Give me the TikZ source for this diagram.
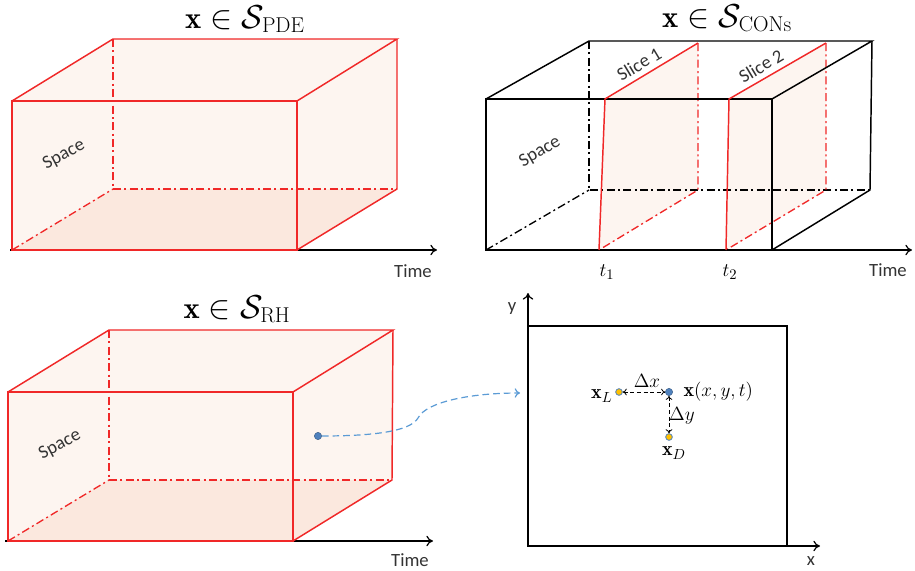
\documentclass[tikz,border=0pt]{standalone}
\usepackage{fontspec}
\newfontfamily\calib{Carlito}
\usetikzlibrary{arrows.meta}
\definecolor{boxred}{HTML}{F02828}
\definecolor{pinkfill}{HTML}{FDF5F0}
\definecolor{pinkdark}{HTML}{FBE8DE}
\definecolor{dotblue}{HTML}{4F81BD}
\definecolor{curveblue}{HTML}{5B9BD5}
\definecolor{dotyellow}{HTML}{FFC000}
\tikzset{
  edge/.style={line width=1.1pt},
  hidden/.style={line width=1.0pt, dash pattern=on 6pt off 2.5pt on 1.5pt off 2.5pt},
  axis/.style={line width=0.9pt, -{To[length=5pt,width=8pt]}},
  title/.style={font=\fontsize{23}{27}\selectfont, anchor=base, inner sep=0pt},
  lab/.style={font=\calib\fontsize{14}{16}\selectfont, text=black!80, inner sep=1pt},
  mlab/.style={font=\fontsize{15}{17}\selectfont, inner sep=1pt},
  dot/.style={circle, inner sep=0pt, minimum size=5.5pt, fill=dotblue, draw=dotblue!70!black, line width=0.3pt},
  ydot/.style={circle, inner sep=0pt, minimum size=5pt, fill=dotyellow, draw=dotblue, line width=0.6pt},
  darr/.style={densely dashed, line width=0.6pt, {To[length=3pt,width=5pt]}-{To[length=3pt,width=5pt]}},
}
\begin{document}
\begin{tikzpicture}[x=0.75pt,y=-0.75pt]
\useasboundingbox (0,0) rectangle (915,571);

% ---------------- Panel 1 ----------------
\coordinate (A1) at (12,250); \coordinate (B1) at (297,250);
\coordinate (C1) at (297,101); \coordinate (D1) at (12,101);
\coordinate (E1) at (113,189); \coordinate (F1) at (397,189);
\coordinate (G1) at (397,39);  \coordinate (H1) at (113,39);
\fill[pinkfill] (A1) -- (D1) -- (H1) -- (G1) -- (F1) -- (B1) -- cycle;
\fill[pinkdark] (A1) -- (B1) -- (F1) -- (E1) -- cycle;
\draw[boxred, hidden] (H1) -- (E1) -- (F1);
\draw[boxred, hidden] (A1) -- (E1);
\coordinate (T1s) at (10,250); \coordinate (T1e) at (437,250);
\draw[axis] (T1s) -- (T1e);
\draw[boxred, edge] (A1) -- (B1) -- (C1) -- (D1) -- cycle;
\draw[boxred, edge] (D1) -- (H1) -- (G1) -- (C1);
\draw[boxred, edge] (G1) -- (F1) -- (B1);
\node[title] (ti1) at (245,28) {$\mathbf{x}\in\mathcal{S}_{\mathrm{PDE}}$};
\node[lab] (time1) at (413,271) {Time};
\node[lab, rotate=28] (sp1) at (64,155) {Space};

% ---------------- Panel 2 ----------------
\coordinate (A2) at (486,250); \coordinate (B2) at (772,250);
\coordinate (C2) at (772,99);  \coordinate (D2) at (486,99);
\coordinate (E2) at (589,190); \coordinate (F2) at (870,190);
\coordinate (G2) at (872,41);  \coordinate (H2) at (589,41);
% slices
\coordinate (S1a) at (599,250); \coordinate (S1b) at (605,99);
\coordinate (S1c) at (698,43);  \coordinate (S1d) at (698,190);
\coordinate (S2a) at (726,250); \coordinate (S2b) at (729,99);
\coordinate (S2c) at (826,43);  \coordinate (S2d) at (826,190);
\fill[pinkfill] (S1a) -- (S1b) -- (S1c) -- (S1d) -- cycle;
\fill[pinkfill] (S2a) -- (S2b) -- (S2c) -- (S2d) -- cycle;
\draw[hidden] (H2) -- (E2) -- (F2);
\draw[hidden] (A2) -- (E2);
\draw[boxred, hidden] (S1c) -- (S1d) -- (S1a);
\draw[boxred, hidden] (S2c) -- (S2d) -- (S2a);
\coordinate (T2s) at (486,250); \coordinate (T2e) at (912,250);
\draw[axis] (T2s) -- (T2e);
\draw[edge] (A2) -- (B2) -- (C2) -- (D2) -- cycle;
\draw[edge] (D2) -- (H2) -- (G2) -- (C2);
\draw[edge] (G2) -- (F2) -- (B2);
\draw[boxred, edge] (S1a) -- (S1b) -- (S1c);
\draw[boxred, edge] (S2a) -- (S2b) -- (S2c);
\node[title] (ti2) at (727,27) {$\mathbf{x}\in\mathcal{S}_{\mathrm{CONs}}$};
\node[lab] (time2) at (888,270) {Time};
\node[mlab] (t1) at (607,272) {$t_1$};
\node[mlab] (t2) at (730,272) {$t_2$};
\node[lab, rotate=30] (sp2) at (540,152) {Space};
\node[lab, rotate=31] (sl1) at (639,64) {Slice 1};
\node[lab, rotate=31] (sl2) at (761,66) {Slice 2};

% ---------------- Panel 3 ----------------
\coordinate (A3) at (8,541);   \coordinate (B3) at (293,541);
\coordinate (C3) at (293,392); \coordinate (D3) at (8,392);
\coordinate (E3) at (109,480); \coordinate (F3) at (392,480);
\coordinate (G3) at (393,330); \coordinate (H3) at (109,330);
\fill[pinkfill] (A3) -- (D3) -- (H3) -- (G3) -- (F3) -- (B3) -- cycle;
\fill[pinkdark] (A3) -- (B3) -- (F3) -- (E3) -- cycle;
\draw[boxred, hidden] (H3) -- (E3) -- (F3);
\draw[boxred, hidden] (A3) -- (E3);
\coordinate (T3s) at (5,541); \coordinate (T3e) at (433,541);
\draw[axis] (T3s) -- (T3e);
\draw[boxred, edge] (A3) -- (B3) -- (C3) -- (D3) -- cycle;
\draw[boxred, edge] (D3) -- (H3) -- (G3) -- (C3);
\draw[boxred, edge] (G3) -- (F3) -- (B3);
\node[title] (ti3) at (237,318) {$\mathbf{x}\in\mathcal{S}_{\mathrm{RH}}$};
\node[lab] (time3) at (410,560) {Time};
\node[lab, rotate=28] (sp3) at (60,445) {Space};
\node[dot] (P) at (318,436) {};

% ---------------- Panel 4 ----------------
\coordinate (R1) at (528,546); \coordinate (R2) at (787,546);
\coordinate (R3) at (787,326); \coordinate (R4) at (528,326);
\draw[edge] (R1) -- (R2) -- (R3) -- (R4) -- cycle;
\coordinate (Yend) at (528,293); \coordinate (Xend) at (820,546);
\draw[axis] (R1) -- (Yend);
\draw[axis] (R1) -- (Xend);
\node[lab] (ylab) at (512,309) {y};
\node[lab] (xlab) at (811,561) {x};
\node[dot] (X) at (669,392) {};
\node[ydot] (XL) at (619,392) {};
\node[ydot] (XD) at (669,437) {};
\draw[darr] (XL) -- (X);
\draw[darr] (X) -- (XD);
\node[mlab, anchor=east] (lXL) at (614,396) {$\mathbf{x}_L$};
\node[mlab, anchor=west] (lX) at (682,392) {$\mathbf{x}(x,y,t)$};
\node[mlab] (ldx) at (647,381) {$\Delta x$};
\node[mlab] (ldy) at (682,416) {$\Delta y$};
\node[mlab] (lXD) at (674,453) {$\mathbf{x}_D$};

% connector
\coordinate (Cin) at (520,393);
\draw[curveblue, line width=0.9pt, dash pattern=on 5pt off 3pt, -{To[length=4pt,width=7pt]}]
  (P) .. controls (370,436) and (410,432) .. (418,418)
      .. controls (426,402) and (470,393) .. (Cin);
\end{tikzpicture}
\end{document}
